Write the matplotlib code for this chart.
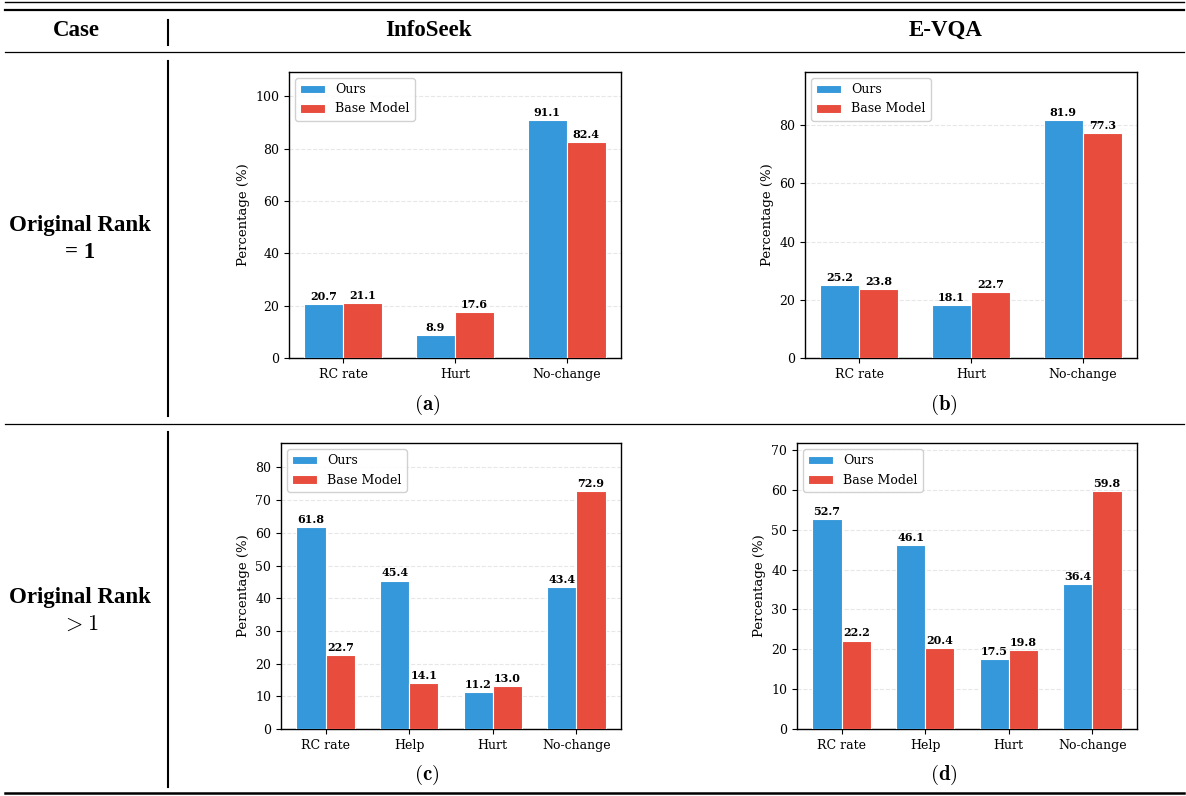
import matplotlib
matplotlib.use("Agg")
import matplotlib.pyplot as plt
from matplotlib.lines import Line2D
import numpy as np

W, H = 1186, 796

# ---- data ----
cats_top = ["RC rate", "Hurt", "No-change"]
cats_bot = ["RC rate", "Help", "Hurt", "No-change"]
a_ours = [20.7, 8.9, 91.1]
a_base = [21.1, 17.6, 82.4]
b_ours = [25.2, 18.1, 81.9]
b_base = [23.8, 22.7, 77.3]
c_ours = [61.8, 45.4, 11.2, 43.4]
c_base = [22.7, 14.1, 13.0, 72.9]
d_ours = [52.7, 46.1, 17.5, 36.4]
d_base = [22.2, 20.4, 19.8, 59.8]
series_names = ["Ours", "Base Model"]
col_headers = ["Case", "InfoSeek", "E-VQA"]
panel_tags = ["a", "b", "c", "d"]

BLUE = "#3498db"
RED = "#e74c3c"

plt.rcParams["font.family"] = "DejaVu Serif"

fig = plt.figure(figsize=(W / 100, H / 100), dpi=100)


def fx(x):
    return x / W


def fy(y):
    return 1 - y / H


def hline(y, x0=5, x1=1184, lw=1.5, color="black"):
    fig.add_artist(Line2D([fx(x0), fx(x1)], [fy(y), fy(y)], color=color, lw=lw,
                          transform=fig.transFigure))


def vline(x, y0, y1, lw=1.5):
    fig.add_artist(Line2D([fx(x), fx(x)], [fy(y0), fy(y1)], color="black", lw=lw,
                          transform=fig.transFigure))


def panel(rect, cats, ours, base):
    l, t, r, b = rect
    ax = fig.add_axes([fx(l), fy(b), fx(r - l), (b - t) / H])
    x = np.arange(len(cats))
    w = 0.35
    b1 = ax.bar(x - w / 2, ours, w, color=BLUE, edgecolor="white", linewidth=0.8,
                label=series_names[0], zorder=3)
    b2 = ax.bar(x + w / 2, base, w, color=RED, edgecolor="white", linewidth=0.8,
                label=series_names[1], zorder=3)
    for bars in (b1, b2):
        for rect_ in bars:
            h = rect_.get_height()
            ax.annotate(f"{h:.1f}", (rect_.get_x() + rect_.get_width() / 2, h),
                        xytext=(0, 1.5), textcoords="offset points",
                        ha="center", va="bottom", fontsize=8, fontweight="bold")
    ax.set_xticks(x)
    ax.set_xticklabels(cats, fontsize=9)
    ax.tick_params(axis="y", labelsize=9)
    ax.set_ylabel("Percentage (%)", fontsize=9.5)
    ax.set_ylim(0, max(max(ours), max(base)) * 1.2)
    ax.yaxis.grid(True, linestyle="--", alpha=0.3, zorder=0)
    ax.set_axisbelow(True)
    for s in ax.spines.values():
        s.set_linewidth(1.0)
    ax.legend(loc="upper left", fontsize=9, framealpha=0.9)
    return ax


panel((289, 72, 621, 358), cats_top, a_ours, a_base)
panel((805, 72, 1137, 358), cats_top, b_ours, b_base)
panel((281, 443, 621, 729), cats_bot, c_ours, c_base)
panel((797, 443, 1137, 729), cats_bot, d_ours, d_base)

# ---- table frame ----
hline(2.3, lw=1.0)
hline(9.5, lw=1.6)
hline(51.7, lw=0.9)
hline(423.5, lw=0.9)
hline(793, lw=1.8)
vline(168, 20, 45)
vline(168, 61, 416)
vline(168, 432, 787)

tfont = dict(family="Liberation Serif", fontweight="bold", fontsize=16.5)
fig.text(fx(76), fy(30), col_headers[0], ha="center", va="center", **tfont)
fig.text(fx(428), fy(30), col_headers[1], ha="center", va="center", **tfont)
fig.text(fx(946), fy(30), col_headers[2], ha="center", va="center", **tfont)

fig.text(fx(80), fy(226), "Original Rank", ha="center", va="center", **tfont)
fig.text(fx(80), fy(253), "= 1", ha="center", va="center", **tfont)
fig.text(fx(80), fy(598), "Original Rank", ha="center", va="center", **tfont)
fig.text(fx(80), fy(624), r"$>1$", ha="center", va="center", fontsize=16,
         math_fontfamily="cm")

for tag, (x, y) in zip(panel_tags, [(427, 405), (944, 405), (427, 775), (944, 775)]):
    fig.text(fx(x), fy(y), r"$\mathbf{(" + tag + r")}$", ha="center", va="center",
             fontsize=15, math_fontfamily="cm")

fig.savefig("out.png", dpi=100)
